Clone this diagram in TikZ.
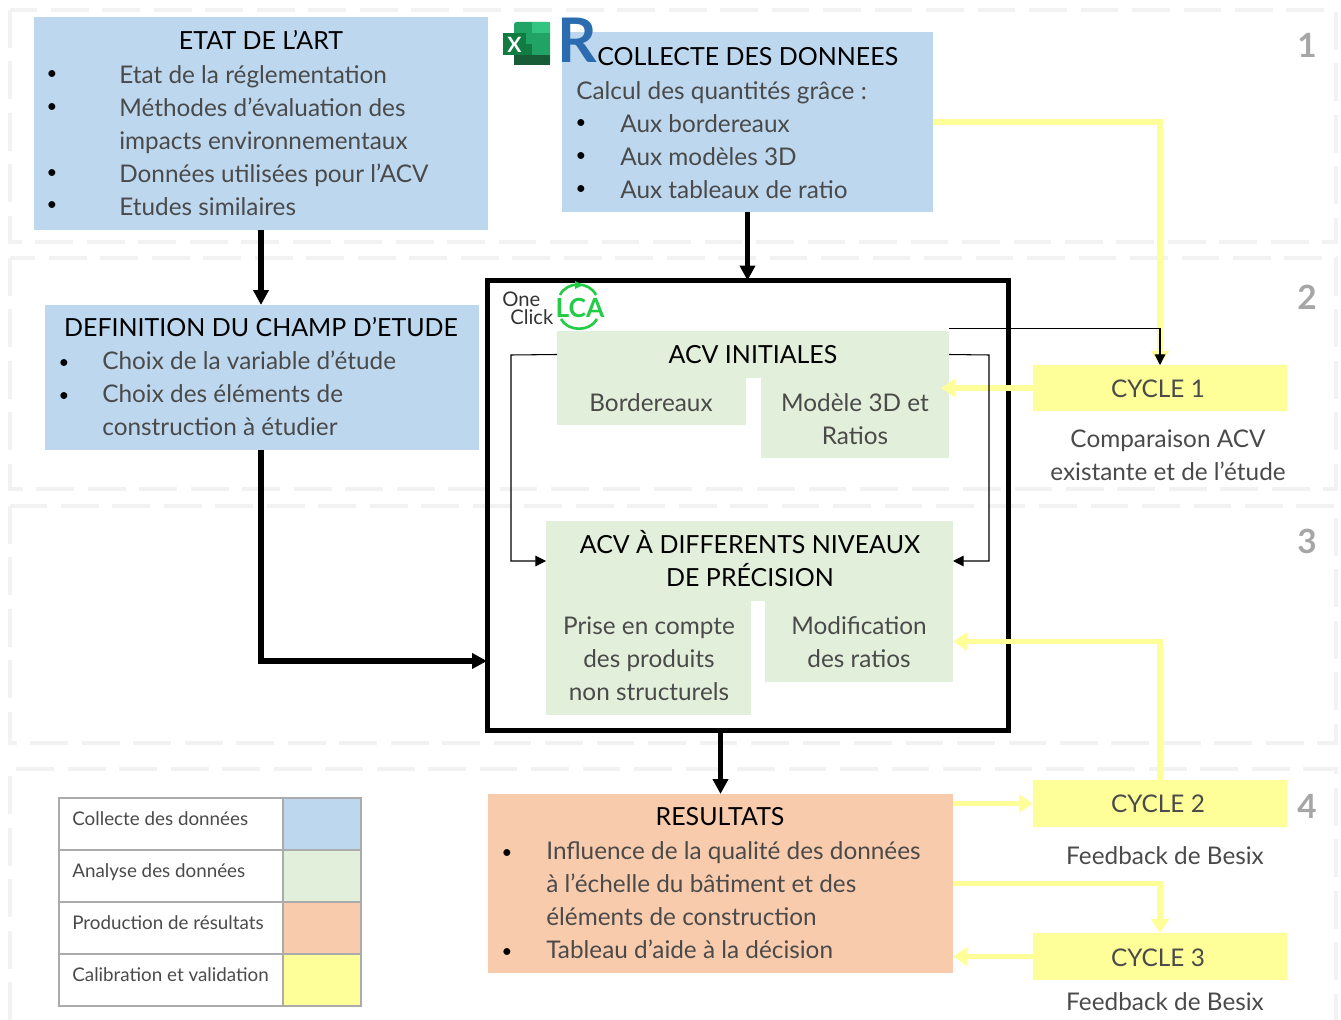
\documentclass[tikz,border=0pt]{standalone}
\usepackage{fontspec}
\setmainfont{Lato}
\usetikzlibrary{arrows.meta}

\definecolor{bleubloc}{HTML}{BDD7EE}
\definecolor{vertbloc}{HTML}{E2EFDA}
\definecolor{orangebloc}{HTML}{F8CBAD}
\definecolor{jaunebloc}{HTML}{FFFF99}
\definecolor{corps}{HTML}{4A4A4A}
\definecolor{cadre}{HTML}{F2F2F2}
\definecolor{grisleg}{HTML}{ABABAB}
\definecolor{vertlca}{HTML}{22CC44}
\definecolor{bleurevit}{HTML}{2B6CB0}
\definecolor{xlclair}{HTML}{33C481}
\definecolor{xlmoyen}{HTML}{21A366}
\definecolor{xlfonce}{HTML}{107C41}
\definecolor{xlnoir}{HTML}{185C37}

\tikzset{
  bloc/.style 2 args={minimum width=#1*0.02cm, minimum height=#2*0.02cm, inner sep=0pt, outer sep=0pt},
  texte/.style={inner sep=0pt, yshift=0.5pt, text=corps, font=\fontsize{13.85}{18.7}\selectfont},
  ligne/.style={texte, anchor=base west, align=left},
  milieu/.style={texte, anchor=base, align=center},
  titre/.style={milieu, text=black, font=\fontsize{14.2}{18.7}\selectfont},
  puce/.style={inner sep=0pt, anchor=base, text=black, font=\fontsize{10.5}{12}\selectfont},
  legende/.style={inner sep=0pt, anchor=base west, text=corps, font=\fontsize{10.7}{14}\selectfont},
  numero/.style={inner sep=0pt, text=black!35, font=\fontsize{19}{22}\bfseries\selectfont},
  zone/.style={draw=cadre, line width=2.4pt, dash pattern=on 21.5pt off 7.8pt},
  fleche/.style={line width=2.9pt, -{Triangle[length=8.5pt, width=8.5pt]}},
  flechejaune/.style={draw=jaunebloc, line width=3.2pt, -{Triangle[length=8pt, width=10pt]}},
  filet/.style={line width=0.6pt, -{Triangle[length=6pt, width=6pt]}},
}

\begin{document}
\begin{tikzpicture}[x=0.02cm, y=-0.02cm]
\useasboundingbox ( 0, 0 ) rectangle ( 1341, 1020 );

% Zones
\draw [zone] ( 10, 10 ) rectangle ( 1336, 242 );
\draw [zone] ( 10, 258 ) rectangle ( 1336, 489 );
\draw [zone] ( 10, 506 ) rectangle ( 1336, 743 );
\draw [zone] ( 10, 1020 ) -- ( 10, 769 ) -- ( 1336, 769 ) -- ( 1336, 1020 );
\node (zoneun) at ( 1307, 45 ) [numero] {1};
\node (zonedeux) at ( 1307, 297 ) [numero] {2};
\node (zonetrois) at ( 1307, 541 ) [numero] {3};
\node (zonequatre) at ( 1307, 806 ) [numero] {4};

% Etat de l'art
\node (etat) at ( 261, 123.5 ) [bloc={454}{213}, fill=bleubloc] {};
\node (etattitre) at ( 261, 50 ) [titre] {ETAT DE L’ART};
\node (etatpa) at ( 52, 80 ) [puce] {•};
\node (etatpb) at ( 52, 113 ) [puce] {•};
\node (etatpc) at ( 52, 179 ) [puce] {•};
\node (etatpd) at ( 52, 211 ) [puce] {•};
\node (etata) at ( 119, 84 ) [ligne] {Etat de la réglementation};
\node (etatb) at ( 119, 150 ) [ligne] {Méthodes d’évaluation des\\impacts environnementaux};
\node (etatc) at ( 119, 183 ) [ligne] {Données utilisées pour l’ACV};
\node (etatd) at ( 119, 216 ) [ligne] {Etudes similaires};

% Collecte
\node (collecte) at ( 747.5, 122 ) [bloc={371}{180}, fill=bleubloc] {};
\node (collectetitre) at ( 597, 66 ) [ligne, text=black, font=\fontsize{14.2}{18.7}\selectfont] {COLLECTE DES DONNEES};
\node (collectea) at ( 576, 100 ) [ligne] {Calcul des quantités grâce :};
\node (collectepa) at ( 581, 129 ) [puce] {•};
\node (collectepb) at ( 581, 162 ) [puce] {•};
\node (collectepc) at ( 581, 195 ) [puce] {•};
\node (collecteb) at ( 620, 133 ) [ligne] {Aux bordereaux};
\node (collectec) at ( 620, 166 ) [ligne] {Aux modèles 3D};
\node (collected) at ( 620, 199 ) [ligne] {Aux tableaux de ratio};

% Logos Excel et Revit
\fill [xlmoyen, rounded corners=1pt] ( 514, 22 ) rectangle ( 550, 65 );
\fill [xlclair] ( 532, 22 ) rectangle ( 550, 33 );
\fill [xlfonce] ( 514, 44 ) rectangle ( 532, 55 );
\fill [xlmoyen] ( 532, 44 ) rectangle ( 550, 55 );
\fill [xlnoir] ( 514, 55 ) rectangle ( 550, 65 );
\node (excel) at ( 514.5, 44.5 ) [bloc={23}{22}, fill=xlfonce, text=white, font=\fontsize{12}{14}\bfseries\selectfont] {X};
\node (revit) at ( 557, 63 ) [inner sep=0pt, anchor=base west, text=bleurevit, font=\fontsize{35}{40}\bfseries\selectfont] {R};

% Definition du champ
\node (champ) at ( 262, 377.5 ) [bloc={434}{145}, fill=bleubloc] {};
\node (champtitre) at ( 261, 337 ) [titre] {DEFINITION DU CHAMP D’ETUDE};
\node (champpa) at ( 64, 368 ) [puce] {•};
\node (champpb) at ( 64, 401 ) [puce] {•};
\node (champa) at ( 102, 370 ) [ligne] {Choix de la variable d’étude};
\node (champb) at ( 102, 436 ) [ligne] {Choix des éléments de\\construction à étudier};

% Modele principal
\node (modele) at ( 748, 505.5 ) [bloc={521}{450}, draw=black, line width=2.9pt] {};
\node (oneclick) at ( 502, 324 ) [inner sep=0pt, anchor=base west, align=left, text=black!80, font=\fontsize{11.5}{9.8}\selectfont] {One\\\hspace{4.5pt}Click};
\node (lca) at ( 580, 317 ) [inner sep=0pt, anchor=base, text=vertlca, font=\fontsize{15}{18}\bfseries\selectfont] {LCA};
\draw [vertlca, line width=1.5pt] ( 560, 295 ) .. controls ( 567, 281 ) and ( 589, 281 ) .. ( 596, 295 );
\draw [vertlca, line width=1.5pt] ( 561, 319 ) .. controls ( 568, 332 ) and ( 590, 332 ) .. ( 597, 319 );
\fill [vertlca] ( 575, 281 ) -- ( 583, 285 ) -- ( 575, 289 ) -- cycle;

% ACV initiales
\node (acvinit) at ( 753, 354.5 ) [bloc={392}{47}, fill=vertbloc] {};
\node (bordereaux) at ( 651.5, 401.5 ) [bloc={189}{47}, fill=vertbloc] {};
\node (troisd) at ( 855, 418 ) [bloc={188}{80}, fill=vertbloc] {};
\node (acvinittitre) at ( 753, 364 ) [titre] {ACV INITIALES};
\node (bordereauxt) at ( 651, 412 ) [milieu] {Bordereaux};
\node (troisdt) at ( 855, 445 ) [milieu] {Modèle 3D et\\Ratios};

% ACV a differents niveaux
\node (acvdiff) at ( 749.5, 561 ) [bloc={407}{80}, fill=vertbloc] {};
\node (produits) at ( 648.5, 658 ) [bloc={205}{114}, fill=vertbloc] {};
\node (ratios) at ( 859, 641.5 ) [bloc={188}{81}, fill=vertbloc] {};
\node (acvdifft) at ( 750, 587 ) [titre] {ACV À DIFFERENTS NIVEAUX\\DE PRÉCISION};
\node (produitst) at ( 649, 701 ) [milieu] {Prise en compte\\des produits\\non structurels};
\node (ratiost) at ( 859, 668 ) [milieu] {Modification\\des ratios};

% Resultats
\node (resultats) at ( 720.5, 883.5 ) [bloc={465}{179}, fill=orangebloc] {};
\node (resultatstitre) at ( 720, 826 ) [titre] {RESULTATS};
\node (resultatspa) at ( 507, 858 ) [puce] {•};
\node (resultatspb) at ( 507, 957 ) [puce] {•};
\node (resultatsa) at ( 546, 926 ) [ligne] {Influence de la qualité des données\\à l’échelle du bâtiment et des\\éléments de construction};
\node (resultatsb) at ( 546, 959 ) [ligne] {Tableau d’aide à la décision};

% Cycles
\node (cycleun) at ( 1160, 388 ) [bloc={254}{46}, fill=jaunebloc] {};
\node (cycledeux) at ( 1160, 803.5 ) [bloc={254}{47}, fill=jaunebloc] {};
\node (cycletrois) at ( 1160, 956.5 ) [bloc={254}{47}, fill=jaunebloc] {};
\node (cycleunt) at ( 1158, 398 ) [milieu] {CYCLE 1};
\node (cycledeuxt) at ( 1158, 813 ) [milieu] {CYCLE 2};
\node (cycletroist) at ( 1158, 967 ) [milieu] {CYCLE 3};
\node (comparaison) at ( 1168, 481 ) [milieu] {Comparaison ACV\\existante et de l’étude};
\node (feedbacka) at ( 1165, 865 ) [milieu] {Feedback de Besix};
\node (feedbackb) at ( 1165, 1011 ) [milieu] {Feedback de Besix};

% Legende
\node (lega) at ( 171, 824 ) [bloc={224}{52}, draw=grisleg, line width=0.9pt] {};
\node (legb) at ( 171, 876 ) [bloc={224}{52}, draw=grisleg, line width=0.9pt] {};
\node (legc) at ( 171, 928 ) [bloc={224}{52}, draw=grisleg, line width=0.9pt] {};
\node (legd) at ( 171, 980 ) [bloc={224}{52}, draw=grisleg, line width=0.9pt] {};
\node (legbleu) at ( 322, 824 ) [bloc={78}{52}, draw=grisleg, fill=bleubloc, line width=0.9pt] {};
\node (legvert) at ( 322, 876 ) [bloc={78}{52}, draw=grisleg, fill=vertbloc, line width=0.9pt] {};
\node (legorange) at ( 322, 928 ) [bloc={78}{52}, draw=grisleg, fill=orangebloc, line width=0.9pt] {};
\node (legjaune) at ( 322, 980 ) [bloc={78}{52}, draw=grisleg, fill=jaunebloc, line width=0.9pt] {};
\node (legat) at ( 72, 825 ) [legende] {Collecte des données};
\node (legbt) at ( 72, 877 ) [legende] {Analyse des données};
\node (legct) at ( 72, 929 ) [legende] {Production de résultats};
\node (legdt) at ( 72, 981 ) [legende] {Calibration et validation};

% Points de passage
\coordinate (renvoi) at ( 949, 328.5 );
\coordinate (coudeg) at ( 511, 355 );
\coordinate (couded) at ( 989, 355 );
\coordinate (entreemodele) at ( 487, 661 );
\coordinate (pointeun) at ( 941, 388 );

% Fleches noires
\draw [fleche] (etat.south) -- (etat.south |- champ.north);
\draw [fleche] (collecte.south) -- (collecte.south |- modele.north);
\draw [fleche] (champ.south -| etat.south) |- (entreemodele);
\draw [fleche] (resultats.north |- modele.south) -- (resultats.north);

% Fleches jaunes
\draw [flechejaune] (collecte.east) -| (cycleun.north);
\draw [flechejaune] (cycleun.west) -- (pointeun);
\draw [flechejaune] (cycledeux.north) |- (ratios.east);
\draw [flechejaune] (cycledeux.west -| resultats.east) -- (cycledeux.west);
\draw [flechejaune] (resultats.east) -| (cycletrois.north);
\draw [flechejaune] (cycletrois.west) -- (cycletrois.west -| resultats.east);

% Filets
\draw [filet] (renvoi) -| (cycleun.north);
\draw [filet] (acvinit.west) -- (coudeg) |- (acvdiff.west);
\draw [filet] (acvinit.east) -- (couded) |- (acvdiff.east);

\end{tikzpicture}
\end{document}
